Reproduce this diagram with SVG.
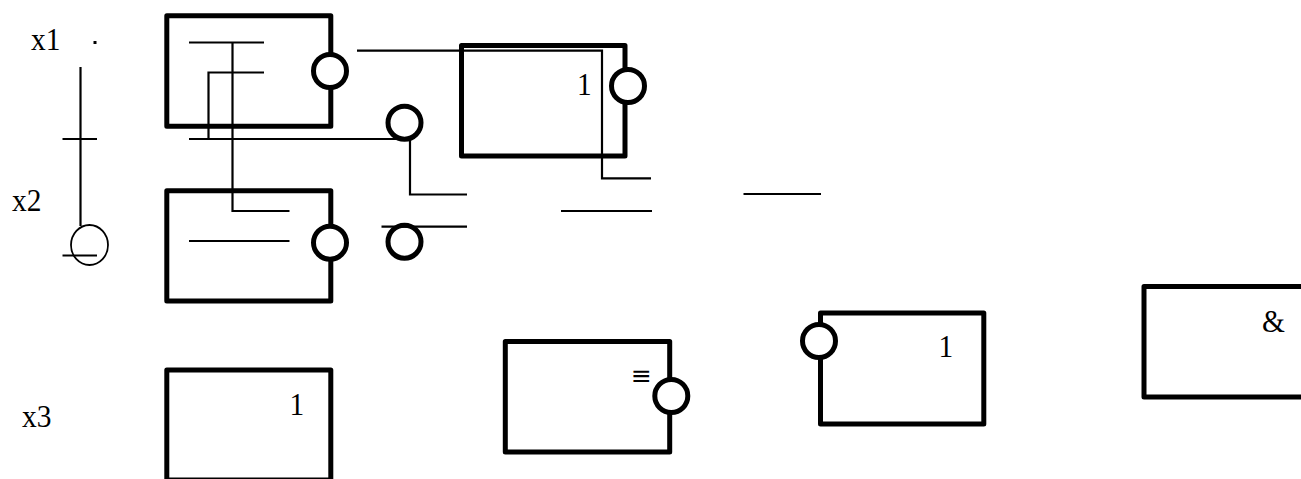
<svg xmlns="http://www.w3.org/2000/svg" width="1301" height="479" viewBox="0 0 1301 479">
<style>
.box{fill:none;stroke:#000;stroke-width:5;stroke-linejoin:round}
.bub{fill:#fff;stroke:#000;stroke-width:5}
.wire{fill:none;stroke:#000;stroke-width:2.2}
.lbl{font-family:"Liberation Serif","Times New Roman",serif;font-size:32px;fill:#000}
.sym{font-family:"DejaVu Sans",sans-serif;font-size:25px;fill:#000}
</style>
<rect width="1301" height="479" fill="#fff"/>
<g id="labels">
<text class="lbl" transform="translate(31 50) scale(.92 1)">x1</text>
<text class="lbl" transform="translate(12 211) scale(.92 1)">x2</text>
<text class="lbl" transform="translate(22 427) scale(.92 1)">x3</text>
</g>
<g id="gate-a"><rect class="box" x="166.8" y="15.7" width="164" height="110.5"/><circle class="bub" cx="330" cy="71" r="16.5"/></g>
<g id="gate-b"><rect class="box" x="166.8" y="190.7" width="164" height="110.3"/><circle class="bub" cx="330" cy="242.7" r="16.5"/></g>
<g id="gate-c"><rect class="box" x="461.5" y="45.5" width="163.5" height="110.5"/><text class="lbl" transform="translate(577 95) scale(.92 1)">1</text><circle class="bub" cx="628" cy="86" r="16.5"/></g>
<g id="gate-d"><rect class="box" x="166.8" y="370" width="164" height="110"/><text class="lbl" transform="translate(289.5 415) scale(.92 1)">1</text></g>
<g id="gate-e"><rect class="box" x="505.3" y="341.5" width="164.4" height="110.5"/><text class="sym" x="631" y="384">≡</text><circle class="bub" cx="671.3" cy="396" r="16.5"/></g>
<g id="gate-f"><rect class="box" x="820.5" y="313" width="163.3" height="111"/><circle class="bub" cx="819" cy="341" r="16.5"/><text class="lbl" transform="translate(938.5 357) scale(.92 1)">1</text></g>
<g id="gate-g"><rect class="box" x="1144" y="286.5" width="170" height="110.5"/><text class="lbl" transform="translate(1262 332) scale(.92 1)">&amp;</text></g>
<g id="bubble-1"><circle class="bub" cx="404.5" cy="122.7" r="16.5"/></g>
<g id="bubble-2"><circle class="bub" cx="404.5" cy="241.7" r="16.5"/></g>
<g id="bubble-3"><ellipse cx="89.5" cy="245" rx="18.5" ry="20" fill="none" stroke="#000" stroke-width="1.8"/></g>
<g id="connectors">
<path d="M93.5 42.5H96.5" fill="none" stroke="#000" stroke-width="3"/>
<path class="wire" d="M80.5 67V226"/>
<path class="wire" d="M62.5 139H97"/>
<path class="wire" d="M62.5 255.5H97"/>
<path class="wire" d="M189 42.5H264"/>
<path class="wire" d="M232.5 42.5V211H289.5"/>
<path class="wire" d="M264 72.5H208.5V139"/>
<path class="wire" d="M189 139H404"/>
<path class="wire" d="M410 139V194.5H467"/>
<path class="wire" d="M189 241H289.5"/>
<path class="wire" d="M357 50.7H602V178.3H651"/>
<path class="wire" d="M561 211H652"/>
<path class="wire" d="M743.5 194H821"/>
<path class="wire" d="M381.5 226.7H467"/>
</g>
</svg>
